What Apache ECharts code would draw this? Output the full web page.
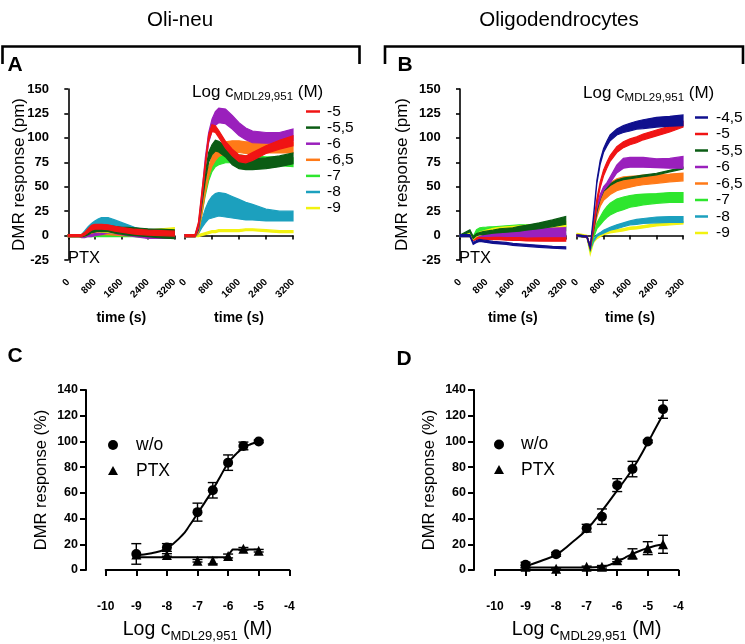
<!DOCTYPE html>
<html><head><meta charset="utf-8">
<script src="https://cdn.jsdelivr.net/npm/echarts@6/dist/echarts.min.js"></script>
<style>html,body{margin:0;padding:0;background:#fff}#c{width:745px;height:644px}</style>
</head><body><div id="c"></div>
<script>
// ---------------- DATA ----------------
// time points (s) for the DMR traces
const tDMR = [0,300,400,500,600,700,800,900,1000,1200,1400,1600,1800,2000,2400,2800,3200];

// Panel A (Oli-neu) – PTX treated: mean and SEM (pm)
const aPtx_m5   = [0,0,0,2,5,8,9,9,9,8.5,7,6,5,4,3,2.5,2];
const aPtx_m5s  = [1,1,1,1.5,2,2.5,2.5,2.5,2.5,2.5,2.5,2.5,2.5,2.5,2.5,2.5,2.5];
const aPtx_m55  = [0,0,0,1,3,5,6,7,7,7,6,5,4.5,4,3,2,1.5];
const aPtx_m55s = [1,1,1,1.5,2,2,2.5,2.5,3,3,3.5,3.5,4,4,4,4.5,4.5];
const aPtx_m6   = [0,0,-1,-1,0,0,1,1.5,2,3.5,3,2,1,0,-2,-2,-2];
const aPtx_m6s  = [1,1,1,1,1,1,1,1,1,1,1,1,1,1,1,1,1];
const aPtx_m65  = [0,0,0,0,1,1,1.5,2,2,2,1.5,1,1,0.5,0,0,0];
const aPtx_m65s = [1,1,1,1,1,1,1,1,1,1,1,1,1,1,1,1,1];
const aPtx_m7   = [0,0,0,0,0,0,0,0,0,0,0,0,0,0,-1,-1,-1];
const aPtx_m7s  = [1,1,1,1,1,1,1,1,1,1,1,1,1,1,1,1,1];
const aPtx_m8   = [0,0,0,3,6,9,11,13,14,14,12,10,8,6,3,2,2];
const aPtx_m8s  = [1,1,1,2,3,3.5,4,4,4.5,4.5,4,3.5,3,2.5,2,2,2];
const aPtx_m9   = [0,0,0,1,4,5,6,6,5.5,5,4.5,4,4,3.5,3,4,5];
const aPtx_m9s  = [1,1,1,1.5,2,2,2,2,2,2,2,2,2,2,2.5,3,3];

// Panel A (Oli-neu) – untreated
const aWo_m5   = [0,0,12,42,72,100,110,109,104,93,85,79,78,81,88,93,97];
const aWo_m5s  = [1,1,2,3,3,3,3.5,3.5,3.5,3.5,3.5,3.5,3.5,4,4,4.5,5];
const aWo_m55  = [0,0,8,35,60,80,88,92,91,86,78,74,73,73,74,76,79];
const aWo_m55s = [1,1,2,3,4,5,5,5.5,5.5,5.5,5.5,5.5,5.5,5.5,5.5,5.5,5.5];
const aWo_m6   = [0,0,10,40,75,100,113,120,123,122,116,109,104,101,100,100,103];
const aWo_m6s  = [1,1,2,3,4,5,6,7,7.5,7.5,7,6.5,6,6,5.5,5.5,6];
const aWo_m65  = [0,0,5,25,48,65,76,83,87,90,91,91,90,90,90,90,90];
const aWo_m65s = [1,1,2,3,4,5,5,6,6,6,6,6,6,6,5.5,5.5,5.5];
const aWo_m7   = [0,0,5,25,45,60,70,75,77,79,79,78,77,77,76,76,75];
const aWo_m7s  = [1,1,2,3,4,4,4.5,4.5,4.5,4.5,4.5,4.5,4.5,4.5,4.5,4.5,4.5];
const aWo_m8   = [0,0,3,12,20,26,29,31,32,31,29,27,25,24,21,20,20];
const aWo_m8s  = [1,1,1,4,7,9,11,12,12,12,11,10,9,8,6,5,5];
const aWo_m9   = [0,0,0,1,2,3,4,4,5,5,5,5,6,6,5,4,4];
const aWo_m9s  = [1,1,1,1,1,1,1,1,1,1,1,1,1,1,1,1,1];

// Panel B (Oligodendrocytes) – PTX treated
const bPtx_m45  = [0,0,-8,-6,-5,-5.5,-6,-6.5,-7,-7.5,-8,-9,-9.5,-10,-11,-12,-12.5];
const bPtx_m45s = [1,1,1,1,1,1,1,1,1,1,1,1,1,1,1,1,1];
const bPtx_m5   = [0,0,-4,-3,-3,-3,-3,-3,-3,-3,-3.5,-3.5,-3.5,-4,-4,-4,-4];
const bPtx_m5s  = [0.5,0.5,1,1,1,1,1,1,1.2,1.2,1.3,1.4,1.5,1.5,1.6,1.7,1.7];
const bPtx_m55  = [0,5,-2,1,2,2.5,3,3.5,4,5,5.5,6,7,8,10,12.5,15.5];
const bPtx_m55s = [0.5,1,1,1,1,1.5,1.5,1.5,1.5,2,2,2,2.5,2.5,3,3.5,4];
const bPtx_m6   = [0,1,-3,-1,0,0,0.2,0.4,0.6,1,1.3,1.5,1.8,2,2.3,2.5,2.7];
const bPtx_m6s  = [0.5,0.5,1,1.5,2,2,2.5,2.8,3,3.5,4,4.5,5,5,5.5,5.8,6];
const bPtx_m65  = [0,0,-4,-2,-1,-1,-1,-1,-1,-1,-1,-1,-1,-1,-1,-1,-1];
const bPtx_m65s = [1,1,1,1,1,1,1,1,1,1,1,1,1,1,1,1,1];
const bPtx_m7   = [0,2,-2,3,5,5.5,5.6,5.8,6,6.5,7,7.5,8,8,8,8,8];
const bPtx_m7s  = [0.5,1,1,3,3,3,3,3,3,3,3,3,3,3,3,3,3];
const bPtx_m8   = [0,0,-4,-2,-1,0,0,0,0,0.5,0.5,0.5,0.5,0.5,0.5,0.5,0.5];
const bPtx_m8s  = [1,1,1,1,1,1,1,1,1,1,1,1,1,1,1,1,1];
const bPtx_m9   = [0,1,-3,0,2,3,4,5,6,7,7.5,8,8.5,9,10,11,12];
const bPtx_m9s  = [0.5,1,1,1,1.5,1.5,1.5,1.5,1.5,1.5,1.5,1.5,1.5,1.5,1.5,2,2.6];

// Panel B (Oligodendrocytes) – untreated
const bWo_m45  = [0,-1,-12,20,55,75,87,94,100,106,109,111,113,114,116,117,118];
const bWo_m45s = [0.5,0.5,1,1,1.5,2,2,2.5,3,3,3.5,4,4,4.5,5,5,5.5];
const bWo_m5   = [0,-1,-12,10,35,52,64,72,79,88,93,96,98,101,105,109,114];
const bWo_m5s  = [0.5,0.5,1,2,2.5,3,3,3,3,3,3,3,3,3,3,3,3];
const bWo_m55  = [0,-1,-12,5,25,38,46,49,52,56,58,59,60,61,63,66,69];
const bWo_m55s = [0.8,0.8,0.8,0.8,0.8,0.8,0.8,0.8,0.8,0.8,0.8,0.8,0.8,0.8,0.8,0.8,0.8];
const bWo_m6   = [0,-1,-12,10,30,40,48,52,57,68,74,75,75,75,74,74,75];
const bWo_m6s  = [0.5,0.5,1,2,2,2,2,2,3,4,5,5,5,5,4.5,5,6];
const bWo_m65  = [0,-1,-12,5,22,34,41,45,48,52,54,55,56,57,58,59,60];
const bWo_m65s = [0.5,0.5,1,2,3,4,5,6,6,6,6,5.5,5,5,4.5,4,4];
const bWo_m7   = [0,-1,-14,0,10,15,20,24,27,31,33,35,36,37,38,39,39];
const bWo_m7s  = [0.5,0.5,1,2,3,4,5,5.5,6,6.5,6.5,6,6,5.5,5,5,5];
const bWo_m8   = [0,-1,-14,-5,0,2,4,5.5,7,9,11,13,14,15,16,16.5,16.5];
const bWo_m8s  = [0.5,0.5,1,1,1,1,1.5,1.5,1.5,2,2,2,2.5,2.5,3,3,3];
const bWo_m9   = [1,-1,-18,-6,-2,0,2,3,4,5,6,7.5,8,9,11,12,13];
const bWo_m9s  = [1.2,1.2,1.2,1.2,1.2,1.2,1.2,1.2,1.2,1.2,1.2,1.2,1.2,1.2,1.2,1.2,1.2];

// Legend labels (Log c, M)
const legendA = ['-5','-5,5','-6','-6,5','-7','-8','-9'];
const legendB = ['-4,5','-5','-5,5','-6','-6,5','-7','-8','-9'];

// Panel C (Oli-neu) concentration-response
const cLogC    = [-9,-8,-7,-6.5,-6,-5.5,-5];
const cWo      = [12.5,17.5,45,62,83.5,96.5,100];
const cWoErr   = [8,3,7,6,6,3,1];
const cPtx     = [12,11.7,7.2,7.2,10.9,16.5,15];
const cPtxErr  = [0,1,1,2.5,1.5,1,1];
const cWoFitX  = [-9,-8.5,-8,-7.5,-7.25,-7,-6.75,-6.5,-6.25,-6,-5.75,-5.5,-5.25,-5];
const cWoFitY  = [11.5,13,17,27,35,44,53,62.5,73,83,90,95,98,100];
const cPtxFitX = [-9,-8,-7,-6.5,-6.05,-5.85,-5.5,-5];
const cPtxFitY = [10,10,10,10,10,16,16,16];

// Panel D (Oligodendrocytes) concentration-response
const dLogC    = [-9,-8,-7,-6.5,-6,-5.5,-5,-4.5];
const dWo      = [4,12.2,32.5,41.5,66,78.5,100,125];
const dWoErr   = [2,1.5,3,6,5,6,1,7];
const dPtx     = [2.5,1,2.5,2.5,7.5,12.5,17,20];
const dPtxErr  = [1,0.5,0.5,1,1,4,5,7];
const dWoFitX  = [-9,-8.5,-8,-7.5,-7,-6.5,-6,-5.5,-5,-4.75,-4.5];
const dWoFitY  = [3,7,12,21,31.5,46,62,78.5,99,110,121];
const dPtxFitX = [-9,-8,-7,-6.5,-6.25,-6,-5.75,-5.5,-5.25,-5,-4.75,-4.5];
const dPtxFitY = [2,2,2,2.5,4,6.5,9.5,12.5,15,17,18.8,19.8];

// ---------------- STYLE ----------------
const FONT = "'Liberation Sans', Arial, Helvetica, sans-serif";
const COL = {'-4,5':'#10108e','-5':'#f01414','-5,5':'#0b5c14','-6':'#9a20bc',
             '-6,5':'#ff7a18','-7':'#2ee62e','-8':'#1ca0be','-9':'#f2f210'};
const plain = v => String(v);

const chart = echarts.init(document.getElementById('c'), null, {renderer:'canvas'});

function band(name, gi, mean, sem, z){
  const color = COL[name];
  return {
    type:'custom', name, xAxisIndex:gi, yAxisIndex:gi, coordinateSystem:'cartesian2d',
    data:[[0,0]], silent:true, z, itemStyle:{color},
    renderItem:function(params, api){
      const up=[], lo=[];
      for(let i=0;i<tDMR.length;i++){
        up.push(api.coord([tDMR[i], mean[i]+sem[i]]));
        lo.push(api.coord([tDMR[i], mean[i]-sem[i]]));
      }
      return {type:'polygon', shape:{points: up.concat(lo.reverse())},
              style:{fill:color, stroke:color, lineWidth:1.2}};
    }
  };
}
function errBars(gi, xs, ys, es){
  return {
    type:'custom', xAxisIndex:gi, yAxisIndex:gi, silent:true, z:3,
    data: xs.map((x,i)=>[x, ys[i], es[i]]),
    renderItem:function(params, api){
      const x=api.value(0), y=api.value(1), e=api.value(2);
      if(!e) return null;
      const t=api.coord([x,y+e]), b=api.coord([x,y-e]);
      const hw=5, st={stroke:'#000', lineWidth:1.4};
      return {type:'group', children:[
        {type:'line', shape:{x1:t[0],y1:t[1],x2:b[0],y2:b[1]}, style:st},
        {type:'line', shape:{x1:t[0]-hw,y1:t[1],x2:t[0]+hw,y2:t[1]}, style:st},
        {type:'line', shape:{x1:b[0]-hw,y1:b[1],x2:b[0]+hw,y2:b[1]}, style:st}
      ]};
    }
  };
}

const axisLineTop = {show:true, lineStyle:{color:'#000', width:1.6}};
function timeX(gi){
  return {gridIndex:gi, type:'value', min:0, max:3200, interval:800, offset:15.5,
    axisLine:axisLineTop, axisTick:{show:true, length:4, lineStyle:{color:'#000',width:1.6}},
    axisLabel:{rotate:45, fontSize:10, fontWeight:'bold', color:'#000', margin:5, fontFamily:FONT, formatter:plain},
    splitLine:{show:false},
    name:'time (s)', nameLocation:'middle', nameGap:36,
    nameTextStyle:{fontSize:14, fontWeight:'bold', color:'#000', fontFamily:FONT}};
}
function dmrY(gi, show, gap){
  return {gridIndex:gi, type:'value', min:-25, max:150, interval:25, offset:13.3, show:show,
    axisLine:axisLineTop, axisTick:{show:true, length:4, lineStyle:{color:'#000',width:1.6}},
    axisLabel:{fontSize:13, fontWeight:'bold', color:'#000', margin:6, fontFamily:FONT, formatter:plain},
    splitLine:{show:false},
    name:'DMR response (pm)', nameLocation:'middle', nameGap:gap, nameMoveOverlap:false,
    nameTextStyle:{fontSize:17, color:'#000', fontFamily:FONT}};
}
const richLog = {
  a:{fontSize:19.5, color:'#000', fontFamily:FONT, lineHeight:26, verticalAlign:'middle'},
  b:{fontSize:13, color:'#000', fontFamily:FONT, lineHeight:13, verticalAlign:'bottom'}
};
function logX(gi){
  return {gridIndex:gi, type:'value', min:-10, max:-4, interval:1, offset:21,
    axisLine:{show:true, lineStyle:{color:'#000', width:2}},
    axisTick:{show:true, length:6, lineStyle:{color:'#000', width:2}},
    axisLabel:{fontSize:12, fontWeight:'bold', color:'#000', margin:10, fontFamily:FONT, formatter:plain},
    splitLine:{show:false},
    name:'{a|Log c}{b|MDL29,951}{a| (M)}', nameLocation:'middle', nameGap:26,
    nameTextStyle:{rich:richLog}};
}
function pctY(gi, off){
  return {gridIndex:gi, type:'value', min:0, max:140, interval:20, offset:off,
    axisLine:{show:true, lineStyle:{color:'#000', width:2}},
    axisTick:{show:true, length:6, lineStyle:{color:'#000', width:2}},
    axisLabel:{fontSize:12.5, fontWeight:'bold', color:'#000', margin:8, fontFamily:FONT, formatter:plain},
    splitLine:{show:false},
    name:'DMR response (%)', nameLocation:'middle', nameGap:36,
    nameTextStyle:{fontSize:16.5, color:'#000', fontFamily:FONT}};
}
const markStyle = {color:'#000', opacity:1};

const series = [
  // A left (PTX)
  band('-7',0,aPtx_m7,aPtx_m7s,1), band('-6,5',0,aPtx_m65,aPtx_m65s,2), band('-6',0,aPtx_m6,aPtx_m6s,3),
  band('-8',0,aPtx_m8,aPtx_m8s,4), band('-9',0,aPtx_m9,aPtx_m9s,5), band('-5,5',0,aPtx_m55,aPtx_m55s,6),
  band('-5',0,aPtx_m5,aPtx_m5s,7),
  // A right
  band('-9',1,aWo_m9,aWo_m9s,1), band('-8',1,aWo_m8,aWo_m8s,2), band('-7',1,aWo_m7,aWo_m7s,3),
  band('-6,5',1,aWo_m65,aWo_m65s,4), band('-5,5',1,aWo_m55,aWo_m55s,5), band('-6',1,aWo_m6,aWo_m6s,6),
  band('-5',1,aWo_m5,aWo_m5s,7),
  // B left (PTX)
  band('-8',2,bPtx_m8,bPtx_m8s,1), band('-6,5',2,bPtx_m65,bPtx_m65s,2), band('-7',2,bPtx_m7,bPtx_m7s,3),
  band('-6',2,bPtx_m6,bPtx_m6s,4), band('-5',2,bPtx_m5,bPtx_m5s,5), band('-9',2,bPtx_m9,bPtx_m9s,6),
  band('-5,5',2,bPtx_m55,bPtx_m55s,7), band('-4,5',2,bPtx_m45,bPtx_m45s,8),
  // B right
  band('-9',3,bWo_m9,bWo_m9s,1), band('-8',3,bWo_m8,bWo_m8s,2), band('-7',3,bWo_m7,bWo_m7s,3),
  band('-6,5',3,bWo_m65,bWo_m65s,4), band('-5,5',3,bWo_m55,bWo_m55s,5), band('-6',3,bWo_m6,bWo_m6s,6),
  band('-5',3,bWo_m5,bWo_m5s,7), band('-4,5',3,bWo_m45,bWo_m45s,8),
  // C
  {type:'line', name:'w/o fit', xAxisIndex:4, yAxisIndex:4, smooth:true, showSymbol:false, silent:true,
   data:cWoFitX.map((x,i)=>[x,cWoFitY[i]]), lineStyle:{color:'#000', width:2}, z:2},
  {type:'line', name:'PTX fit', xAxisIndex:4, yAxisIndex:4, smooth:false, showSymbol:false, silent:true,
   data:cPtxFitX.map((x,i)=>[x,cPtxFitY[i]]), lineStyle:{color:'#000', width:2}, z:2},
  errBars(4,cLogC,cWo,cWoErr), errBars(4,cLogC,cPtx,cPtxErr),
  {type:'scatter', name:'PTX', xAxisIndex:4, yAxisIndex:4, symbol:'triangle', symbolSize:10,
   data:cLogC.map((x,i)=>[x,cPtx[i]]), itemStyle:markStyle, z:4},
  {type:'scatter', name:'w/o', xAxisIndex:4, yAxisIndex:4, symbol:'circle', symbolSize:10,
   data:cLogC.map((x,i)=>[x,cWo[i]]), itemStyle:markStyle, z:5},
  // D
  {type:'line', name:'w/o fit', xAxisIndex:5, yAxisIndex:5, smooth:true, showSymbol:false, silent:true,
   data:dWoFitX.map((x,i)=>[x,dWoFitY[i]]), lineStyle:{color:'#000', width:2}, z:2},
  {type:'line', name:'PTX fit', xAxisIndex:5, yAxisIndex:5, smooth:true, showSymbol:false, silent:true,
   data:dPtxFitX.map((x,i)=>[x,dPtxFitY[i]]), lineStyle:{color:'#000', width:2}, z:2},
  errBars(5,dLogC,dWo,dWoErr), errBars(5,dLogC,dPtx,dPtxErr),
  {type:'scatter', name:'PTX', xAxisIndex:5, yAxisIndex:5, symbol:'triangle', symbolSize:10,
   data:dLogC.map((x,i)=>[x,dPtx[i]]), itemStyle:markStyle, z:4},
  {type:'scatter', name:'w/o', xAxisIndex:5, yAxisIndex:5, symbol:'circle', symbolSize:10,
   data:dLogC.map((x,i)=>[x,dWo[i]]), itemStyle:markStyle, z:5}
];

// ---------------- GRAPHICS (titles, legends) ----------------
const g = [];
function txt(x,y,text,size,opt){
  g.push({type:'text', x, y, silent:true,
    style:Object.assign({text, fontSize:size, fontFamily:FONT, fill:'#000', align:'center', verticalAlign:'middle'}, opt||{})});
}
txt(180,20,'Oli-neu',20.5);
txt(559,20,'Oligodendrocytes',20.5);
g.push({type:'polyline', silent:true, shape:{points:[[2.5,64],[2.5,46.5],[359.5,46.5],[359.5,64]]}, style:{stroke:'#000', lineWidth:2.6, fill:null}});
g.push({type:'polyline', silent:true, shape:{points:[[385,64],[385,46.5],[743,46.5],[743,64]]}, style:{stroke:'#000', lineWidth:2.6, fill:null}});
txt(15,65,'A',21,{fontWeight:'bold'});
txt(405,65,'B',21,{fontWeight:'bold'});
txt(15,356,'C',21,{fontWeight:'bold'});
txt(404,359,'D',21,{fontWeight:'bold'});
txt(68,258,'PTX',16.5,{align:'left'});
txt(459,258,'PTX',16.5,{align:'left'});
const richLeg = {
  a:{fontSize:17, fill:'#000', fontFamily:FONT, lineHeight:22, verticalAlign:'middle'},
  b:{fontSize:11.5, fill:'#000', fontFamily:FONT, lineHeight:11, verticalAlign:'bottom'}
};
txt(192,92,'{a|Log c}{b|MDL29,951}{a| (M)}',17,{align:'left', rich:richLeg});
txt(583,93,'{a|Log c}{b|MDL29,951}{a| (M)}',17,{align:'left', rich:richLeg});
legendA.forEach((lab,i)=>{
  const y = 111.5 + i*16.1;
  g.push({type:'line', silent:true, shape:{x1:306,y1:y,x2:320,y2:y}, style:{stroke:COL[lab], lineWidth:2.5}});
  txt(327,y,lab,15.5,{align:'left'});
});
legendB.forEach((lab,i)=>{
  const y = 117.5 + i*16.5;
  g.push({type:'line', silent:true, shape:{x1:695,y1:y,x2:708,y2:y}, style:{stroke:COL[lab], lineWidth:2.5}});
  txt(716,y,lab,15.5,{align:'left'});
});
// C / D legends
[[113,136,445,471],[499,521,444.5,470]].forEach(([mx,tx,y1,y2])=>{
  g.push({type:'circle', silent:true, shape:{cx:mx, cy:y1, r:5}, style:{fill:'#000'}});
  txt(tx,y1,'w/o',17.5,{align:'left'});
  g.push({type:'polygon', silent:true, shape:{points:[[mx,y2-5],[mx+5,y2+4],[mx-5,y2+4]]}, style:{fill:'#000'}});
  txt(tx,y2,'PTX',17.5,{align:'left'});
});

chart.setOption({
  animation:false,
  backgroundColor:'#fff',
  textStyle:{fontFamily:FONT},
  grid:[
    {left:68.3, top:89, width:106, height:171},
    {left:185, top:89, width:108, height:171},
    {left:460, top:89, width:105.7, height:171},
    {left:577, top:89, width:106, height:171},
    {left:105.7, top:390, width:183.6, height:180},
    {left:495, top:390, width:183.3, height:180}
  ],
  xAxis:[timeX(0), timeX(1), timeX(2), timeX(3), logX(4), logX(5)],
  yAxis:[dmrY(0,true,27), dmrY(1,false,27), dmrY(2,true,36), dmrY(3,false,27), pctY(4,19.7), pctY(5,21)],
  series,
  graphic:g
});
</script></body></html>
